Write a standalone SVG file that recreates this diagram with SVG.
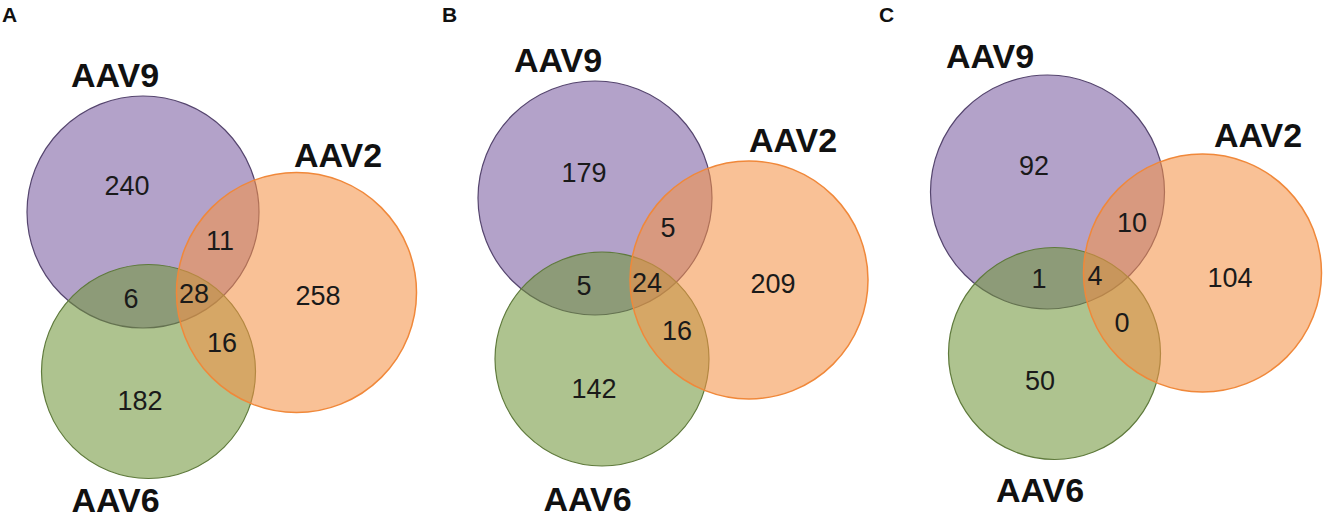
<svg xmlns="http://www.w3.org/2000/svg" width="1323" height="518" viewBox="0 0 1323 518">
<style>
.bg{fill:#ffffff}
.p{fill:#7a5ca0;fill-opacity:0.57;stroke:#55456e;stroke-width:1.2}
.g{fill:#71963a;fill-opacity:0.57;stroke:#5f7a3c;stroke-width:1.2}
.o{fill:#f49247;fill-opacity:0.57;stroke:#f0883a;stroke-width:1.5}
.lab{font-family:"Liberation Sans",Arial,sans-serif;font-weight:bold;font-size:34px;fill:#111111;text-anchor:middle}
.pan{font-family:"Liberation Sans",Arial,sans-serif;font-weight:bold;font-size:21px;fill:#111111}
.num{font-family:"Liberation Sans",Arial,sans-serif;font-size:27px;fill:#1a1a1a;text-anchor:middle}
</style>
<rect class="bg" x="0" y="0" width="1323" height="518"/>

<g id="panelA">
  <text class="pan" x="2" y="22">A</text>
  <g id="A-AAV9"><circle class="p" cx="143" cy="212" r="116"/><text class="lab" x="115" y="87">AAV9</text></g>
  <g id="A-AAV6"><circle class="g" cx="148.5" cy="371.5" r="107"/><text class="lab" x="115.5" y="512">AAV6</text></g>
  <g id="A-AAV2"><circle class="o" cx="296.5" cy="292.5" r="120"/><text class="lab" x="338" y="167">AAV2</text></g>
  <g id="A-nums">
    <text class="num" x="127" y="195">240</text>
    <text class="num" x="220" y="250">11</text>
    <text class="num" x="131" y="308">6</text>
    <text class="num" x="194" y="303">28</text>
    <text class="num" x="318" y="305">258</text>
    <text class="num" x="222" y="352">16</text>
    <text class="num" x="140" y="410">182</text>
  </g>
</g>

<g id="panelB">
  <text class="pan" x="442" y="22">B</text>
  <g id="B-AAV9"><circle class="p" cx="595" cy="198" r="117"/><text class="lab" x="558" y="72">AAV9</text></g>
  <g id="B-AAV6"><circle class="g" cx="602" cy="359" r="107"/><text class="lab" x="587.5" y="511">AAV6</text></g>
  <g id="B-AAV2"><circle class="o" cx="749" cy="280" r="119"/><text class="lab" x="793" y="152">AAV2</text></g>
  <g id="B-nums">
    <text class="num" x="584" y="182">179</text>
    <text class="num" x="668" y="237">5</text>
    <text class="num" x="584" y="295">5</text>
    <text class="num" x="647" y="292">24</text>
    <text class="num" x="773" y="293">209</text>
    <text class="num" x="677" y="340">16</text>
    <text class="num" x="594" y="398">142</text>
  </g>
</g>

<g id="panelC">
  <text class="pan" x="879" y="22">C</text>
  <g id="C-AAV9"><circle class="p" cx="1047.5" cy="192" r="117"/><text class="lab" x="990" y="68">AAV9</text></g>
  <g id="C-AAV6"><circle class="g" cx="1054.5" cy="353.5" r="106"/><text class="lab" x="1040" y="502">AAV6</text></g>
  <g id="C-AAV2"><circle class="o" cx="1202.5" cy="273" r="119"/><text class="lab" x="1258" y="147">AAV2</text></g>
  <g id="C-nums">
    <text class="num" x="1034" y="175">92</text>
    <text class="num" x="1132" y="232">10</text>
    <text class="num" x="1039" y="288">1</text>
    <text class="num" x="1095" y="285">4</text>
    <text class="num" x="1230" y="287">104</text>
    <text class="num" x="1122" y="332">0</text>
    <text class="num" x="1040" y="390">50</text>
  </g>
</g>

<g id="connectors"></g>
</svg>
